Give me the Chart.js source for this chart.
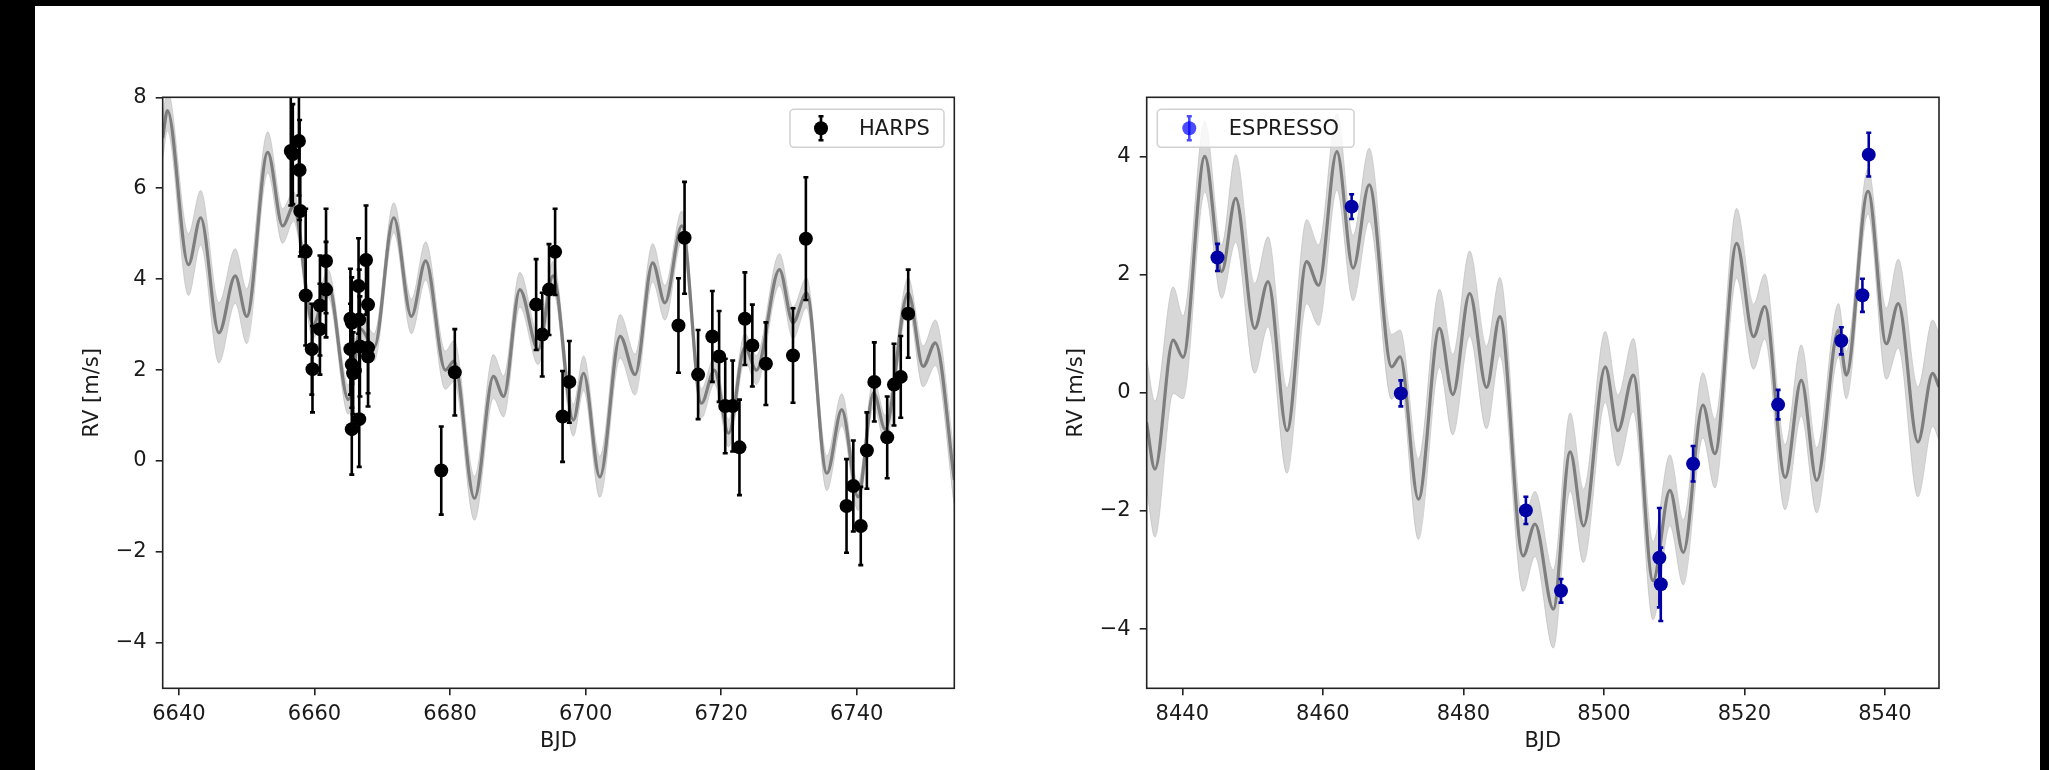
<!DOCTYPE html>
<html>
<head>
<meta charset="utf-8">
<script src="https://cdn.jsdelivr.net/npm/chart.js@4.4.1/dist/chart.umd.min.js"></script>
<style>
  html, body { margin: 0; padding: 0; background: #000; }
  #page  { position: relative; width: 2049px; height: 770px; overflow: hidden; background: #000; }
  #paper { position: absolute; left: 35px; top: 6px; width: 2005px; height: 764px; background: #fff; }
  canvas { position: absolute; top: 0; }
  #harps { left: 0; }
  #espresso { left: 1000px; }
</style>
</head>
<body>
<div id="page">
  <div id="paper"></div>
  <canvas id="harps" width="1000" height="770"></canvas>
  <canvas id="espresso" width="1049" height="770"></canvas>
</div>
<script>
// ── Data: HARPS ───────────────────────────────────────
const harpsBJD = [6656.5, 6656.8, 6657.7, 6657.8, 6657.9, 6658.7, 6658.7, 6659.6, 6659.7, 6660.8,
  6660.8, 6661.7, 6661.7, 6665.3, 6665.5, 6666.5, 6666.6, 6665.3, 6666.7, 6665.5,
  6665.7, 6667.6, 6667.9, 6667.9, 6667.9, 6665.5, 6666.6, 6678.7, 6680.7, 6692.7,
  6693.6, 6694.6, 6695.5, 6696.6, 6697.6, 6713.7, 6714.6, 6716.6, 6718.7, 6719.7,
  6720.6, 6721.7, 6722.7, 6723.5, 6724.6, 6726.6, 6730.6, 6732.5, 6738.5, 6739.5,
  6740.6, 6741.5, 6742.6, 6744.5, 6745.5, 6746.5, 6747.6];
const harpsRV  = [6.82, 6.75, 7.04, 6.40, 5.50, 4.60, 3.64, 2.46, 2.02, 3.42,
  2.90, 4.40, 3.77, 3.13, 3.04, 3.85, 3.11, 2.46, 2.52, 2.12,
  1.93, 4.42, 3.44, 2.49, 2.30, 0.70, 0.92, -0.21, 1.95, 3.44,
  2.78, 3.77, 4.60, 0.98, 1.74, 2.98, 4.91, 1.90, 2.74, 2.30,
  1.21, 1.21, 0.30, 3.13, 2.54, 2.14, 2.32, 4.89, -0.99, -0.55,
  -1.43, 0.23, 1.74, 0.52, 1.68, 1.85, 3.24];
const harpsErr = [1.2, 1.1, 1.2, 1.1, 1.0, 0.95, 1.1, 1.0, 0.95, 1.1,
  1.0, 1.15, 1.05, 1.1, 1.0, 1.05, 1.1, 1.0, 1.1, 0.95,
  0.9, 1.2, 1.05, 1.0, 1.1, 1.0, 1.05, 0.97, 0.95, 1.0,
  0.92, 1.0, 0.95, 1.0, 0.9, 1.04, 1.23, 0.98, 1.0, 1.0,
  1.04, 1.0, 1.05, 1.02, 0.9, 0.91, 1.04, 1.35, 1.03, 1.0,
  0.86, 0.84, 0.87, 0.9, 0.9, 0.9, 0.97];

// GP model for the HARPS season (mean and 1-sigma half width)
const harpsModelBJD = [6637.6, 6638.3, 6641.4, 6643.2, 6645.9, 6648.3, 6650.0, 6653.1, 6655.3, 6656.9,
  6659.8, 6662.0, 6665.0, 6666.8, 6668.8, 6671.7, 6674.3, 6676.4, 6679.3, 6680.6,
  6683.6, 6686.4, 6687.9, 6690.3, 6693.0, 6695.2, 6698.2, 6699.7, 6702.1, 6705.1,
  6707.3, 6709.9, 6711.7, 6714.2, 6717.1, 6719.0, 6721.1, 6723.5, 6725.2, 6728.6,
  6730.6, 6732.6, 6735.6, 6737.8, 6740.2, 6742.5, 6744.2, 6747.6, 6749.8, 6751.6,
  6754.4];
const harpsModelRV  = [7.1, 7.71, 4.32, 5.35, 2.82, 4.07, 3.18, 6.79, 5.17, 5.6,
  3.0, 3.9, 1.35, 2.9, 2.5, 5.35, 3.18, 4.40, 2.0, 2.2,
  -0.82, 1.86, 1.42, 3.77, 2.45, 4.07, 0.9, 1.93, -0.35, 2.74,
  1.90, 4.36, 3.48, 5.17, 1.27, 2.0, 0.61, 2.5, 2.0, 4.21,
  3.04, 3.70, -0.27, 1.13, -0.79, 1.5, 0.7, 3.70, 2.08, 2.60,
  -0.42];
const harpsModelSig = [0.45, 0.45, 0.68, 0.6, 0.66, 0.6, 0.6, 0.45, 0.38, 0.32,
  0.3, 0.3, 0.32, 0.3, 0.3, 0.33, 0.38, 0.42, 0.42, 0.45,
  0.48, 0.48, 0.45, 0.38, 0.33, 0.32, 0.35, 0.38, 0.45, 0.48,
  0.45, 0.42, 0.38, 0.33, 0.32, 0.3, 0.3, 0.3, 0.32, 0.35,
  0.35, 0.33, 0.38, 0.35, 0.3, 0.3, 0.3, 0.33, 0.45, 0.5,
  0.55];

// ── Data: ESPRESSO ────────────────────────────────────
const espBJD = [8445.0, 8464.1, 8471.1, 8488.9, 8493.9, 8507.9, 8508.1, 8512.7, 8524.8, 8533.8, 8536.8, 8537.7];
const espRV  = [2.29, 3.15, -0.01, -1.99, -3.35, -2.79, -3.24, -1.20, -0.20, 0.88, 1.65, 4.03];
const espErr = [0.23, 0.21, 0.22, 0.23, 0.2, 0.84, 0.62, 0.3, 0.25, 0.23, 0.28, 0.37];

const espModelBJD = [8434.9, 8436.1, 8438.7, 8440.1, 8443.2, 8445.6, 8447.6, 8450.3, 8452.2, 8454.9,
  8457.7, 8459.4, 8462.0, 8464.3, 8466.6, 8469.8, 8471.0, 8473.6, 8476.6, 8478.5,
  8480.9, 8483.3, 8485.2, 8488.5, 8490.2, 8492.8, 8495.2, 8497.1, 8500.2, 8502.0,
  8504.2, 8507.0, 8509.4, 8511.3, 8514.1, 8515.8, 8518.9, 8521.3, 8522.9, 8525.8,
  8528.1, 8530.3, 8533.4, 8534.5, 8537.6, 8540.2, 8541.9, 8544.7, 8546.8, 8547.7];
const espModelRV  = [-0.5, -1.29, 0.89, 0.6, 4.0, 2.05, 3.29, 1.09, 1.88, -0.64,
  2.22, 1.82, 4.08, 2.11, 3.52, 0.44, 0.61, -1.80, 1.09, -0.03,
  1.68, 0.09, 1.29, -2.76, -2.22, -3.66, -1.0, -2.25, 0.44, -0.64,
  0.30, -3.18, -1.65, -2.70, -0.21, -1.03, 2.53, 0.95, 1.46, -1.43,
  0.21, -1.48, 1.06, 0.30, 3.41, 0.83, 1.51, -0.83, 0.33, 0.1];
const espModelSig = [1.1, 1.15, 0.9, 0.7, 0.6, 0.45, 0.74, 0.76, 0.76, 0.72,
  0.71, 0.68, 0.65, 0.55, 0.62, 0.55, 0.45, 0.68, 0.66, 0.68,
  0.72, 0.7, 0.66, 0.6, 0.55, 0.66, 0.66, 0.62, 0.6, 0.6,
  0.62, 0.66, 0.6, 0.55, 0.55, 0.58, 0.59, 0.55, 0.55, 0.55,
  0.6, 0.55, 0.45, 0.4, 0.38, 0.6, 0.75, 0.93, 0.9, 0.9];

// ── Axes ──────────────────────────────────────────────
const harpsXTicks = [6640, 6660, 6680, 6700, 6720, 6740];
const harpsYTicks = [-4, -2, 0, 2, 4, 6, 8];
const espXTicks   = [8440, 8460, 8480, 8500, 8520, 8540];
const espYTicks   = [-4, -2, 0, 2, 4];

// ── Helpers ───────────────────────────────────────────
const FONT = "'DejaVu Sans', 'Liberation Sans', sans-serif";
const INK  = "#1a1a1a";
const pts  = (xs, ys) => xs.map((x, i) => ({ x, y: ys[i] }));
const fmt  = v => v < 0 ? "\u2212" + Math.abs(v) : String(v);

function errorBars(chart, xs, ys, es, color) {
  const { ctx, chartArea: a, scales: { x, y } } = chart;
  ctx.save();
  ctx.beginPath(); ctx.rect(a.left, a.top, a.width, a.height); ctx.clip();
  ctx.strokeStyle = color; ctx.lineWidth = 2.6;
  xs.forEach((t, i) => {
    const px  = x.getPixelForValue(t);
    const top = y.getPixelForValue(ys[i] + es[i]);
    const bot = y.getPixelForValue(ys[i] - es[i]);
    ctx.beginPath();
    ctx.moveTo(px, top); ctx.lineTo(px, bot);
    ctx.moveTo(px - 2.5, top); ctx.lineTo(px + 2.5, top);
    ctx.moveTo(px - 2.5, bot); ctx.lineTo(px + 2.5, bot);
    ctx.stroke();
  });
  ctx.restore();
}

function legendBox(chart, o) {
  const { ctx, chartArea: a } = chart;
  const left = o.right ? a.right - o.inset - o.w : a.left + o.inset;
  const top  = a.top + 12, h = 38;
  ctx.save();
  ctx.fillStyle = "rgba(255,255,255,0.8)";
  ctx.strokeStyle = "rgba(204,204,204,0.9)";
  ctx.lineWidth = 1.5;
  ctx.beginPath(); ctx.roundRect(left, top, o.w, h, 4); ctx.fill(); ctx.stroke();
  const mx = left + o.mark, my = top + h / 2;
  ctx.strokeStyle = o.color; ctx.fillStyle = o.color; ctx.lineWidth = 2.6;
  ctx.beginPath();
  ctx.moveTo(mx, my - 12); ctx.lineTo(mx, my + 12);
  ctx.moveTo(mx - 2.5, my - 12); ctx.lineTo(mx + 2.5, my - 12);
  ctx.moveTo(mx - 2.5, my + 12); ctx.lineTo(mx + 2.5, my + 12);
  ctx.stroke();
  ctx.beginPath(); ctx.arc(mx, my, 7, 0, Math.PI * 2); ctx.fill();
  ctx.fillStyle = INK;
  ctx.font = "21px " + FONT;
  ctx.textBaseline = "middle";
  ctx.fillText(o.label, left + o.text, my + 1);
  ctx.restore();
}

const frame = {
  id: "frame",
  afterDraw(chart) {
    const { ctx, chartArea: a } = chart;
    ctx.save();
    ctx.strokeStyle = "#222"; ctx.lineWidth = 1.6;
    ctx.strokeRect(a.left, a.top, a.width, a.height);
    ctx.restore();
  }
};

function makeChart(id, o) {
  const model = pts(o.modelX, o.modelY);
  const upper = o.modelX.map((x, i) => ({ x, y: o.modelY[i] + o.modelS[i] }));
  const lower = o.modelX.map((x, i) => ({ x, y: o.modelY[i] - o.modelS[i] }));
  const interp = { cubicInterpolationMode: "monotone" };
  const axisCommon = {
    type: "linear",
    border: { display: false },
    grid: { drawOnChartArea: false, drawTicks: true, tickLength: 7, color: "#222", lineWidth: 1.6 },
    title: { display: true, color: INK, font: { family: FONT, size: 21 } }
  };
  return new Chart(document.getElementById(id), {
    type: "scatter",
    data: {
      datasets: [
        { label: o.label, data: pts(o.x, o.y), order: 0, pointRadius: 7, pointHoverRadius: 7,
          backgroundColor: o.color, borderWidth: 0 },
        { data: model, type: "line", order: 1, showLine: true, pointRadius: 0, borderColor: "rgba(118,118,118,0.92)",
          borderWidth: 3.2, fill: false, ...interp },
        { data: upper, type: "line", order: 2, showLine: true, pointRadius: 0, borderColor: "rgba(185,185,185,0.6)",
          borderWidth: 1, fill: false, ...interp },
        { data: lower, type: "line", order: 2, showLine: true, pointRadius: 0, borderColor: "rgba(185,185,185,0.6)",
          borderWidth: 1, fill: "-1", backgroundColor: "rgba(211,211,211,0.9)", ...interp }
      ]
    },
    options: {
      responsive: false,
      animation: false,
      events: [],
      layout: { padding: o.pad },
      plugins: { legend: { display: false }, tooltip: { enabled: false } },
      scales: {
        x: { ...axisCommon, min: o.xMin, max: o.xMax,
             afterBuildTicks: s => { s.ticks = o.xTicks.map(v => ({ value: v })); },
             afterFit: s => { s.height = o.xAxisH; },
             ticks: { color: INK, font: { family: FONT, size: 21 }, padding: 7, autoSkip: false, maxRotation: 0, callback: v => String(v) },
             title: { ...axisCommon.title, text: "BJD", padding: { top: 0, bottom: 16 } } },
        y: { ...axisCommon, min: o.yMin, max: o.yMax,
             afterBuildTicks: s => { s.ticks = o.yTicks.map(v => ({ value: v })); },
             afterFit: s => { s.width = o.yAxisW; },
             ticks: { color: INK, font: { family: FONT, size: 21 }, padding: 9, callback: v => fmt(v) },
             title: { ...axisCommon.title, text: "RV [m/s]", padding: { top: o.yTitlePad, bottom: 0 } } }
      }
    },
    plugins: [frame, {
      id: "errs",
      beforeDatasetDraw(chart, args) {
        if (args.index === 0) errorBars(chart, o.x, o.y, o.err, o.color);
      },
      afterDraw(chart) { legendBox(chart, o.legend); }
    }]
  });
}

// ── Left: HARPS ───────────────────────────────────────
makeChart("harps", {
  label: "HARPS", color: "#000",
  x: harpsBJD, y: harpsRV, err: harpsErr,
  modelX: harpsModelBJD, modelY: harpsModelRV, modelS: harpsModelSig,
  xMin: 6637.6, xMax: 6754.4, yMin: -5, yMax: 8,
  xTicks: harpsXTicks, yTicks: harpsYTicks,
  pad: { left: 0, top: 97.3, right: 45.7, bottom: 0 },
  xAxisH: 81.7, yAxisW: 162.7, yTitlePad: 80,
  legend: { label: "HARPS", color: "#000", right: true, inset: 10.3, w: 154, mark: 31, text: 69 }
});

// ── Right: ESPRESSO ───────────────────────────────────
makeChart("espresso", {
  label: "ESPRESSO", color: "#0000a5",
  x: espBJD, y: espRV, err: espErr,
  modelX: espModelBJD, modelY: espModelRV, modelS: espModelSig,
  xMin: 8434.93, xMax: 8547.7, yMin: -5, yMax: 5,
  xTicks: espXTicks, yTicks: espYTicks,
  pad: { left: 0, top: 97.3, right: 110, bottom: 0 },
  xAxisH: 81.7, yAxisW: 146.7, yTitlePad: 64.4,
  legend: { label: "ESPRESSO", color: "rgba(0,0,255,0.7)", right: false, inset: 10.6, w: 196.7, mark: 32, text: 71.5 }
});
</script>
</body>
</html>
